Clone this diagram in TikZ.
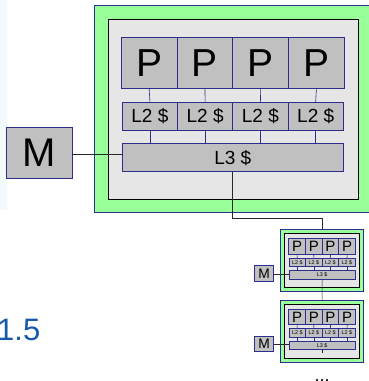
\documentclass[tikz,border=0pt]{standalone}
\usepackage{fontspec}
\setmainfont{Liberation Sans}
\definecolor{greenfill}{RGB}{153,255,153}
\definecolor{navy}{RGB}{45,45,140}
\definecolor{innerfill}{RGB}{230,230,230}
\definecolor{boxfill}{RGB}{192,192,192}
\definecolor{wire}{RGB}{40,40,40}
\definecolor{numblue}{RGB}{22,90,170}
\definecolor{faint}{RGB}{243,250,252}
\tikzset{
  greenbox/.style={draw=navy, fill=greenfill, line width=0.9pt, inner sep=0, outer sep=0, anchor=north west},
  innerbox/.style={draw=black, fill=innerfill, line width=0.9pt, inner sep=0, outer sep=0, anchor=north west},
  unitbox/.style={draw=navy, fill=boxfill, line width=0.9pt, inner sep=0, outer sep=0},
  navywire/.style={draw=navy, line width=0.6pt},
  blackwire/.style={draw=wire, line width=0.7pt},
}
\newcommand\cluster[7]{%
\begin{scope}[shift={(#2,#3)}, scale=#4, transform shape]
  \node[greenbox, minimum width=276, minimum height=207] (#1g) at (0,0) {};
  \node[innerbox, minimum width=250, minimum height=180] (#1in) at (13.6,-13.6) {};
  \node[unitbox, anchor=north west, minimum width=221, minimum height=28,
    font=\fontsize{#6}{#6}\selectfont] (#1Lthree) at (27.6,-138) {L3 \$};
  \foreach \i in {0,1,2,3} {
    \node[unitbox, anchor=north west, minimum width=55.75, minimum height=51,
      font=\fontsize{#5}{#5}\selectfont] (#1p\i) at ({26.6+\i*55.75},-32) {P};
    \node[unitbox, anchor=north west, minimum width=55.25, minimum height=28.3,
      font=\fontsize{#6}{#6}\selectfont] (#1ltwo\i) at ({27.6+\i*55.25},-96.3) {L2 \$};
    \draw[navywire] (#1p\i.south) -- (#1ltwo\i.north);
    \draw[navywire] (#1ltwo\i.south) -- (#1ltwo\i.south |- #1Lthree.north);
  }
  \node[unitbox, minimum width=65.7, minimum height=51.3,
    font=\fontsize{#7}{#7}\selectfont] (#1m) at (-55.55,-146.95) {M};
  \draw[blackwire] ([yshift=-2pt]#1m.east) -- ([yshift=-2pt]#1m.east -| #1Lthree.west);
\end{scope}}
\begin{document}
\begin{tikzpicture}[x=1pt,y=1pt]
\useasboundingbox (0,0) rectangle (368,-381);
\fill[faint] (0,0) rectangle (6.5,-210);
\cluster{b}{94.7}{-5.7}{1}{39}{19}{40}
\cluster{s}{280.7}{-229.3}{0.3}{50}{18}{46}
\cluster{t}{280.7}{-300}{0.3}{50}{18}{46}
\coordinate (bend) at (0,-218);
\draw[blackwire] (bLthree.south) |- (sg.north |- bend) -- (sg.north);
\draw[blackwire] (sLthree.south) -- (tg.north);
\coordinate (tickend) at ([yshift=-3.5]tLthree.south);
\draw[blackwire] (tLthree.south) -- (tickend);
\node[anchor=base east, inner sep=0, text=numblue, font=\fontsize{31}{31}\selectfont] (num) at (40.5,-340.7) {1.5};
\node[anchor=base, inner sep=0, font=\fontsize{18}{18}\selectfont] (dots) at (322,-381) {...};
\end{tikzpicture}
\end{document}
